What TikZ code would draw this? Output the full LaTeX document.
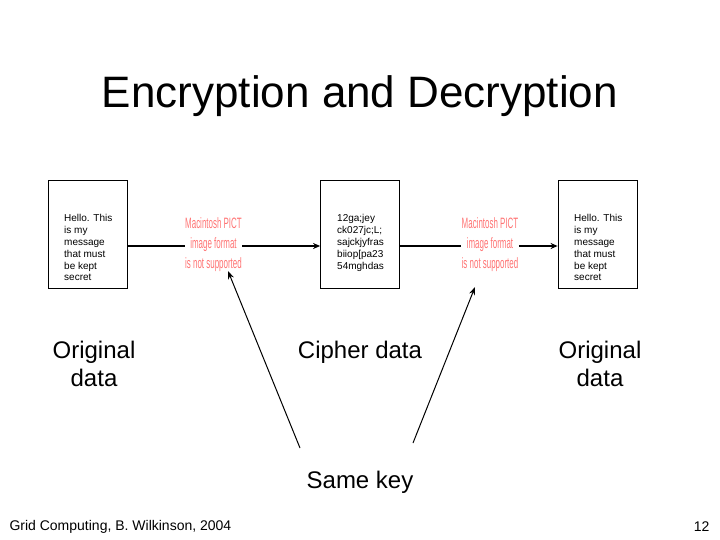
\documentclass[tikz,border=0pt]{standalone}
\usepackage{fontspec}
\setmainfont{Liberation Sans}
\usepackage{tikz}
\usetikzlibrary{arrows.meta,positioning}

\begin{document}
\begin{tikzpicture}[x=1pt,y=-1pt]
\tikzstyle{box}=[draw,rectangle,minimum width=79pt,minimum height=108pt,inner sep=0pt,line width=0.8pt]
\tikzstyle{msg}=[anchor=north west,align=left,inner sep=0pt,font=\fontsize{10}{11.9}\selectfont]
\tikzstyle{pict}=[align=center,text=red!55,inner sep=1pt,xscale=0.53,font=\fontsize{15}{20}\selectfont]
\tikzstyle{caption}=[align=center,font=\fontsize{24}{28}\selectfont]
\tikzstyle{flow}=[line width=1.5pt]
\tikzstyle{keyline}=[line width=1pt,-{Stealth[length=8pt,width=6pt]}]
\useasboundingbox (0,0) rectangle (720,540);
% title
\node (title) at (360,96) {\fontsize{44}{48}\selectfont Encryption and Decryption};
% data boxes
\node [box] (box1) at (87.5,234) {};
\node [box] (box2) at (360,234) {};
\node [box] (box3) at (597.5,234) {};
\node [msg] (msg1) at (64,214) {Hello. This\\is my\\message\\that must\\be kept\\secret};
\node [msg] (msg2) at (337,214) {12ga;jey\\ck027jc;L;\\sajckjyfras\\biiop[pa23\\54mghdas};
\node [msg] (msg3) at (574,214) {Hello. This\\is my\\message\\that must\\be kept\\secret};
% missing pictures
\node [pict] (pict1) at (213.5,245) {Macintosh PICT\\image format\\is not supported};
\node [pict] (pict2) at (490,245) {Macintosh PICT\\image format\\is not supported};
% flow
\draw [flow] (box1.east |- 0,246) -- (pict1.west |- 0,246);
\draw [flow,-{Stealth[length=7pt,width=6pt]}] (pict1.east |- 0,246) -- (box2.west |- 0,246);
\draw [flow] (box2.east |- 0,246) -- (pict2.west |- 0,246);
\draw [flow,-{Stealth[length=7pt,width=6pt]}] (pict2.east |- 0,246) -- (box3.west |- 0,246);
% captions
\node [caption] (orig1) at (94,364) {Original\\data};
\node [caption] (cipher) at (360,352) {Cipher data};
\node [caption] (orig2) at (600,364) {Original\\data};
\node [caption] (key) at (360,482) {Same key};
\coordinate (k1) at (300,448);
\coordinate (k2) at (413,443);
\coordinate (p1) at (228,271);
\coordinate (p2) at (475,287);
\draw [keyline] (k1) -- (p1);
\draw [keyline] (k2) -- (p2);
% footer
\node [anchor=west,font=\fontsize{14}{16}\selectfont] (foot) at (6,527) {Grid Computing, B. Wilkinson, 2004};
\node [anchor=east,font=\fontsize{14}{16}\selectfont] (page) at (713,527) {12};
\end{tikzpicture}
\end{document}
